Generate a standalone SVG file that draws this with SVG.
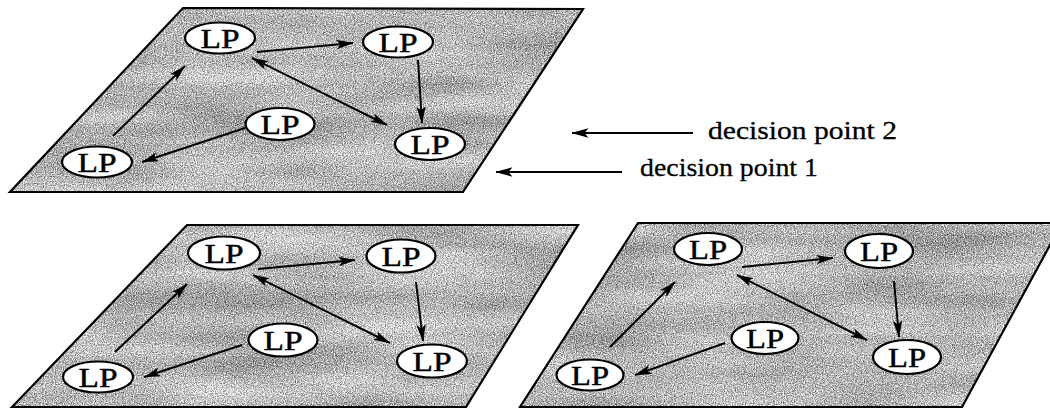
<svg xmlns="http://www.w3.org/2000/svg" width="1050" height="408" viewBox="0 0 1050 408">
<defs>
<style>
.plane{fill:#b0b0b0;filter:url(#grain)}
.edge{fill:none;stroke:#000;stroke-width:2.2;stroke-linejoin:miter}
.node ellipse{fill:#fff;stroke:#000;stroke-width:2.2}
.node text{font-family:"Liberation Serif","Times New Roman",serif;font-size:28px;fill:#000;stroke:#000;stroke-width:0.45;text-anchor:middle}
.conn line{stroke:#000;stroke-width:2;marker-end:url(#ah)}
.conn line.both{marker-start:url(#ah)}
.lbl{font-family:"Liberation Serif","Times New Roman",serif;font-size:26px;fill:#000;stroke:#000;stroke-width:0.3}
</style>
<marker id="ah" viewBox="0 0 17 11" refX="16.5" refY="5.5" markerWidth="17" markerHeight="11" markerUnits="userSpaceOnUse" orient="auto-start-reverse">
<path d="M0,0.8 L17,5.5 L0,10.2 L4,5.5 z" fill="#000"/>
</marker>
<filter id="grain" x="0" y="0" width="100%" height="100%" color-interpolation-filters="sRGB">
<feTurbulence type="fractalNoise" baseFrequency="0.9" numOctaves="2" seed="4" result="fine0"/>
<feColorMatrix in="fine0" type="matrix" values="1 0 0 0 0  1 0 0 0 0  1 0 0 0 0  0 0 0 0 1" result="fine"/>
<feTurbulence type="fractalNoise" baseFrequency="0.006 0.035" numOctaves="2" seed="9" result="blot0"/>
<feColorMatrix in="blot0" type="matrix" values="1 0 0 0 0  1 0 0 0 0  1 0 0 0 0  0 0 0 0 1" result="blot"/>
<feComposite in="fine" in2="blot" operator="arithmetic" k1="0" k2="1.15" k3="0.35" k4="-0.04" result="mix"/>
<feComposite in="mix" in2="SourceGraphic" operator="in"/>
</filter>
</defs>

<g id="planes">
<polygon class="plane" points="183,8 583,9 463,192 10,192"/>
<polygon class="plane" points="187,225 578,225 466,407 12,407"/>
<polygon class="plane" points="638,223 1062,223 962,407 520,407"/>
<polygon class="edge" points="183,8 583,9 463,192 10,192"/>
<polygon class="edge" points="187,225 578,225 466,407 12,407"/>
<polygon class="edge" points="638,223 1062,223 962,407 520,407"/>
</g>

<g id="connectors" class="conn">
<line x1="257" y1="52" x2="353" y2="43"/>
<line x1="113" y1="136" x2="185" y2="66"/>
<line class="both" x1="252" y1="58" x2="387" y2="125"/>
<line x1="418" y1="60" x2="422" y2="123"/>
<line x1="245" y1="128" x2="142" y2="162"/>

<line x1="258" y1="269" x2="355" y2="260"/>
<line x1="115" y1="352" x2="187" y2="284"/>
<line class="both" x1="253" y1="275" x2="390" y2="343"/>
<line x1="416" y1="282" x2="423" y2="341"/>
<line x1="242" y1="345" x2="144" y2="377"/>

<line x1="742" y1="267" x2="833" y2="258"/>
<line x1="610" y1="347" x2="675" y2="282"/>
<line class="both" x1="737" y1="275" x2="867" y2="340"/>
<line x1="894" y1="281" x2="899" y2="337"/>
<line x1="725" y1="343" x2="635" y2="375"/>

<line x1="693" y1="133" x2="572" y2="133"/>
<line x1="622" y1="172" x2="496" y2="172"/>
</g>

<g id="a-tl" class="node"><ellipse cx="220" cy="38" rx="35" ry="15.5"/><text x="220" y="47.5" textLength="39" lengthAdjust="spacingAndGlyphs">LP</text></g>
<g id="a-tr" class="node"><ellipse cx="398" cy="42" rx="35" ry="15.5"/><text x="398" y="51.5" textLength="39" lengthAdjust="spacingAndGlyphs">LP</text></g>
<g id="a-m" class="node"><ellipse cx="280" cy="124" rx="34.5" ry="16"/><text x="280" y="133.5" textLength="39" lengthAdjust="spacingAndGlyphs">LP</text></g>
<g id="a-bl" class="node"><ellipse cx="97" cy="162" rx="35" ry="15.5"/><text x="97" y="171.5" textLength="39" lengthAdjust="spacingAndGlyphs">LP</text></g>
<g id="a-br" class="node"><ellipse cx="430" cy="144" rx="35" ry="16"/><text x="430" y="153.5" textLength="39" lengthAdjust="spacingAndGlyphs">LP</text></g>

<g id="b-tl" class="node"><ellipse cx="224" cy="253" rx="36" ry="16.5"/><text x="224" y="262.5" textLength="39" lengthAdjust="spacingAndGlyphs">LP</text></g>
<g id="b-tr" class="node"><ellipse cx="401" cy="256" rx="34.5" ry="16.5"/><text x="401" y="265.5" textLength="39" lengthAdjust="spacingAndGlyphs">LP</text></g>
<g id="b-m" class="node"><ellipse cx="283" cy="340" rx="34.5" ry="16.5"/><text x="283" y="349.5" textLength="39" lengthAdjust="spacingAndGlyphs">LP</text></g>
<g id="b-bl" class="node"><ellipse cx="98" cy="377" rx="35" ry="15.5"/><text x="98" y="386.5" textLength="39" lengthAdjust="spacingAndGlyphs">LP</text></g>
<g id="b-br" class="node"><ellipse cx="432" cy="361" rx="35" ry="16.5"/><text x="432" y="370.5" textLength="39" lengthAdjust="spacingAndGlyphs">LP</text></g>

<g id="c-tl" class="node"><ellipse cx="708" cy="249" rx="34" ry="16"/><text x="708" y="258.5" textLength="38" lengthAdjust="spacingAndGlyphs">LP</text></g>
<g id="c-tr" class="node"><ellipse cx="879" cy="251" rx="34" ry="17"/><text x="879" y="260.5" textLength="38" lengthAdjust="spacingAndGlyphs">LP</text></g>
<g id="c-m" class="node"><ellipse cx="765" cy="338" rx="33.5" ry="16"/><text x="765" y="347.5" textLength="38" lengthAdjust="spacingAndGlyphs">LP</text></g>
<g id="c-bl" class="node"><ellipse cx="590" cy="375" rx="33.5" ry="15.5"/><text x="590" y="384.5" textLength="38" lengthAdjust="spacingAndGlyphs">LP</text></g>
<g id="c-br" class="node"><ellipse cx="907" cy="357" rx="34" ry="17"/><text x="907" y="366.5" textLength="38" lengthAdjust="spacingAndGlyphs">LP</text></g>

<g id="labels">
<text class="lbl" x="708" y="139" textLength="189" lengthAdjust="spacingAndGlyphs">decision point 2</text>
<text class="lbl" x="640" y="176" textLength="178" lengthAdjust="spacingAndGlyphs">decision point 1</text>
</g>
</svg>
